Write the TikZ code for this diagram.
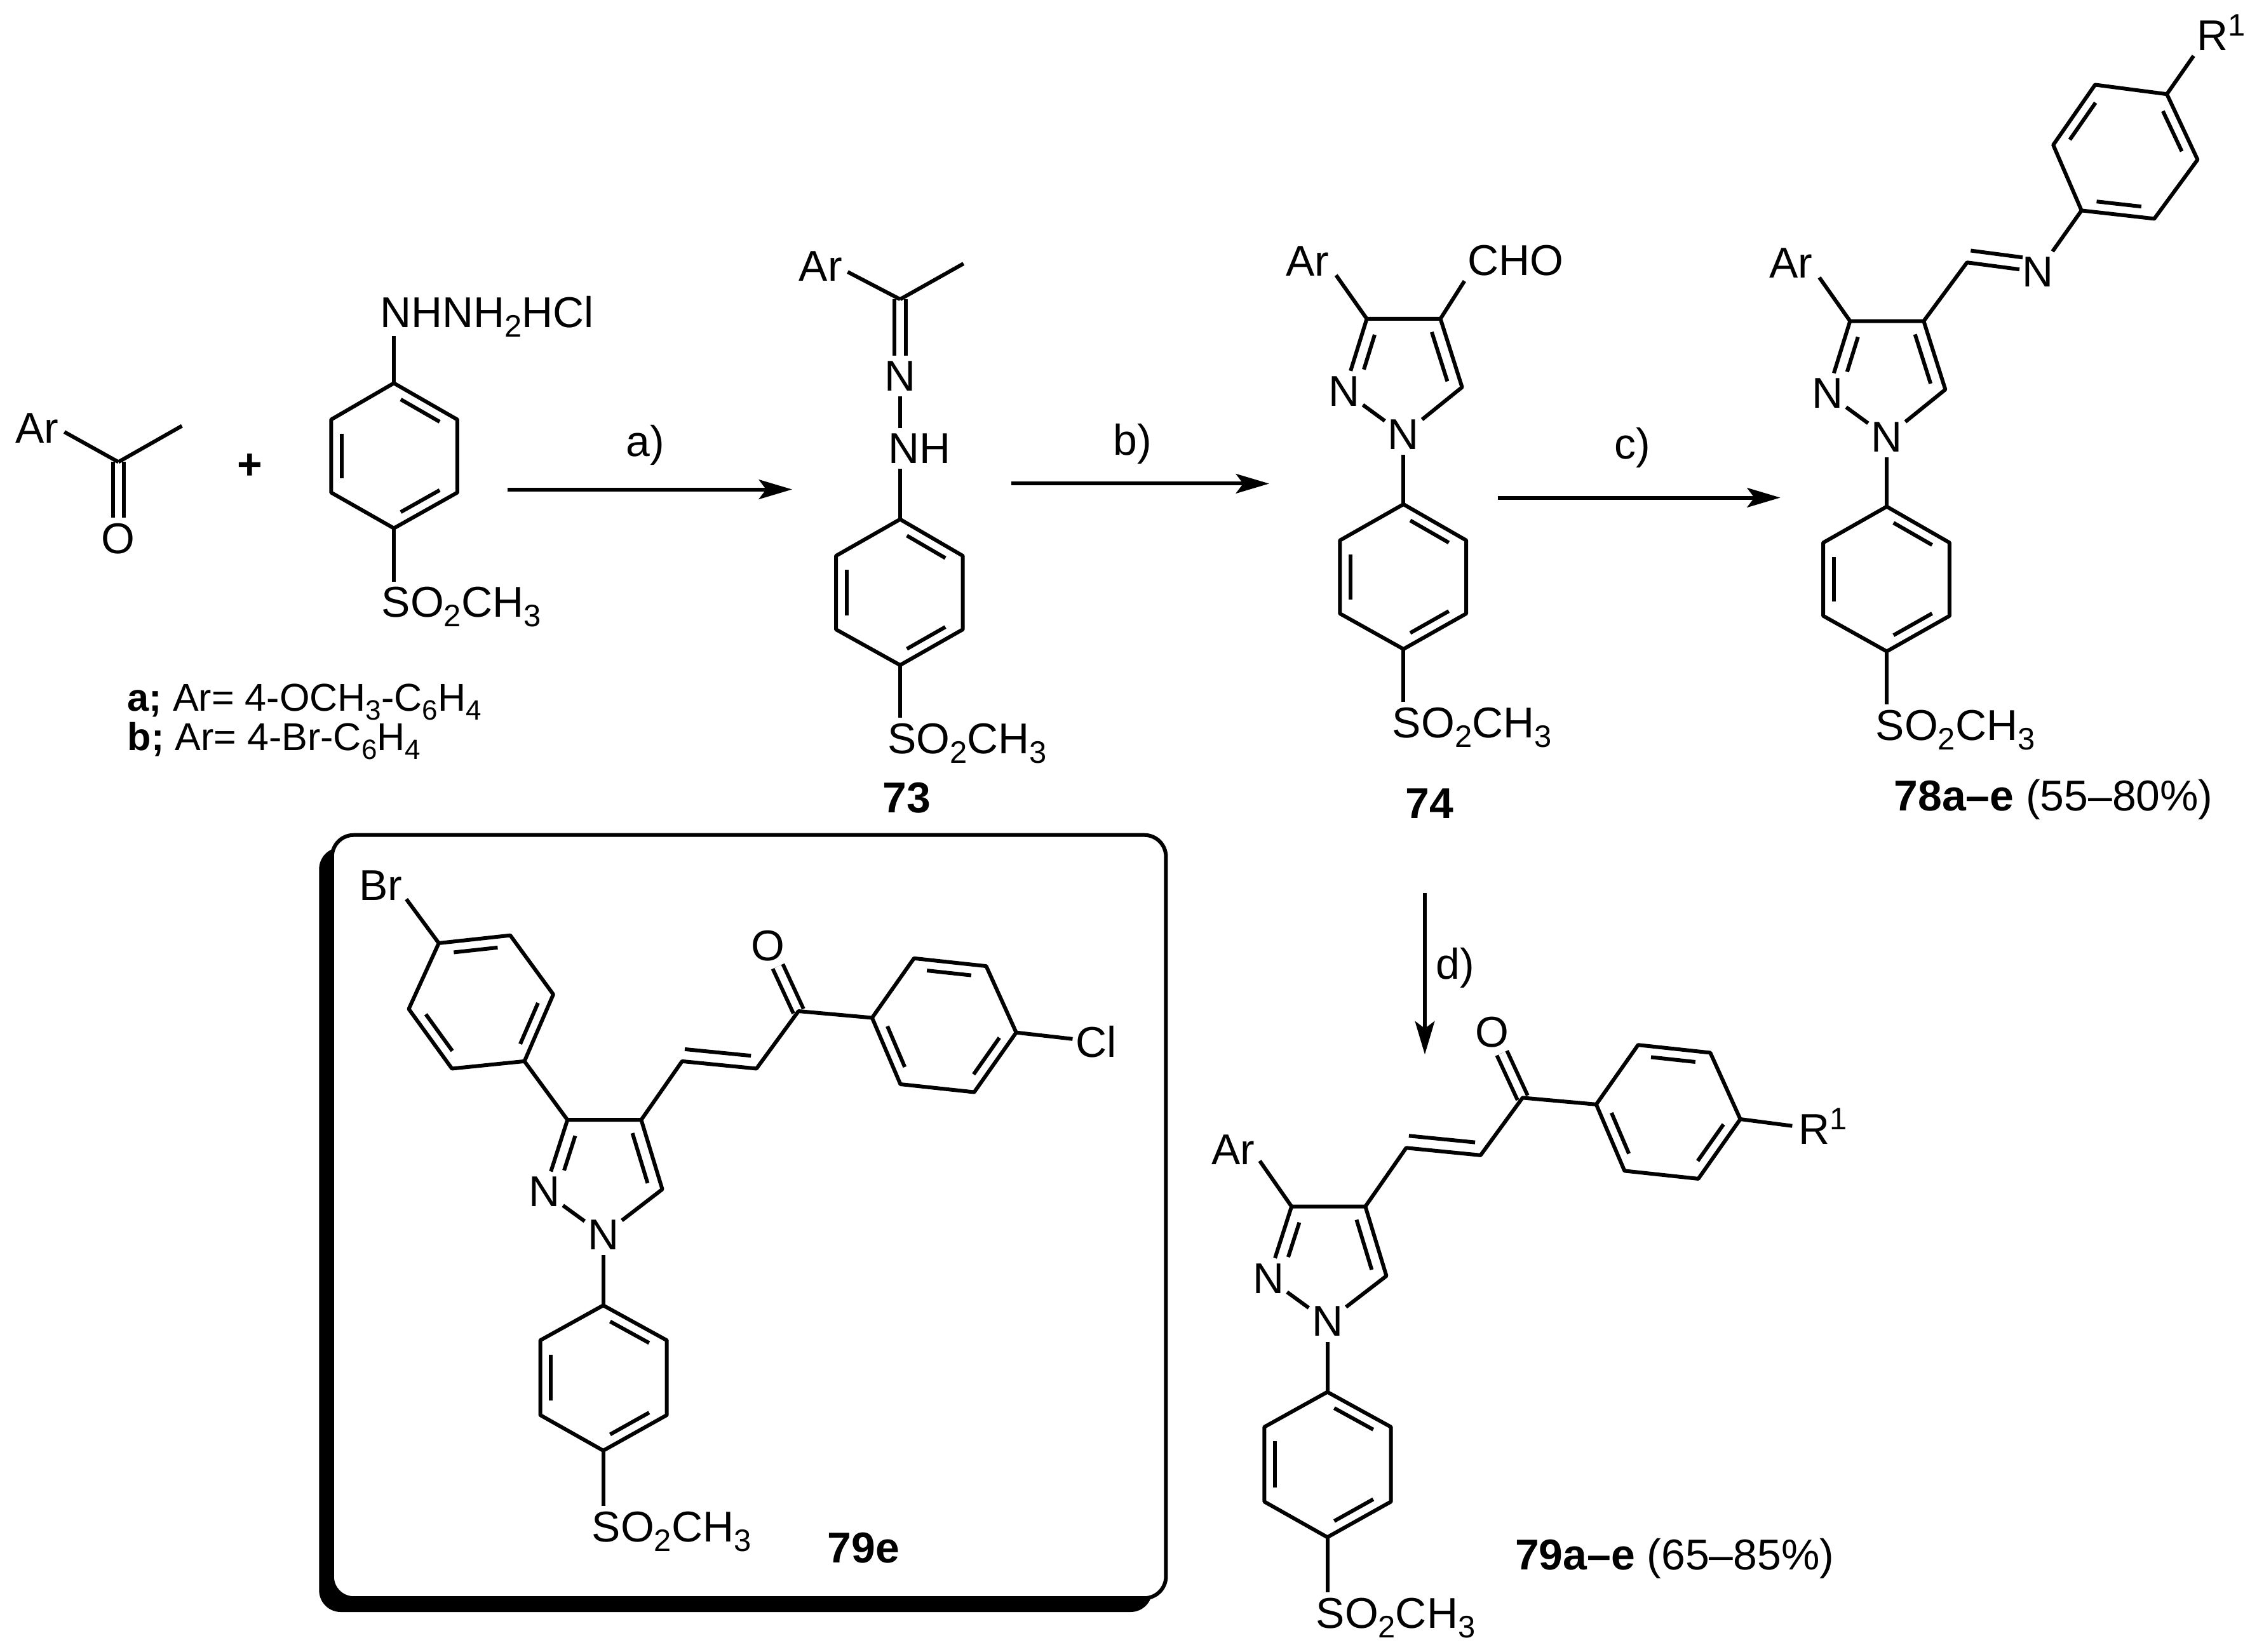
\documentclass[tikz,border=0pt]{standalone}
\usepackage{graphicx}
\usepackage{fontspec}
\setmainfont{Liberation Sans}
\usetikzlibrary{calc,arrows.meta}

\newcommand{\chemfont}{\fontsize{17}{20}\selectfont}
\newcommand{\notefont}{\fontsize{15.3}{18}\selectfont}
\newcommand{\low}[1]{\raisebox{-.22em}{\scalebox{.72}{#1}}}
\newcommand{\upp}[1]{\raisebox{.34em}{\scalebox{.72}{#1}}}
\newcommand{\sulfone}{SO\low{2}CH\low{3}}
\newcommand{\dgap}{.17cm}

% inner line of a double bond: from, to, start, end, side
\newcommand{\inbond}[5]{\draw[bond] ($(#1)!#3!(#2)!\dgap!#5:(#2)$) -- ($(#1)!#4!(#2)!\dgap!#5:(#2)$);}

\newcommand{\hexring}[7]{
	\coordinate (#1a) at #2;
	\coordinate (#1b) at #3;
	\coordinate (#1c) at #4;
	\coordinate (#1d) at #5;
	\coordinate (#1e) at #6;
	\coordinate (#1f) at #7;
	\coordinate (#1o) at ($(#1a)!.5!(#1d)$);
	\draw[bond] (#1a) -- (#1b) -- (#1c) -- (#1d) -- (#1e) -- (#1f) -- cycle;
	\foreach \p/\q in {a/b,c/d,e/f}
		\draw[bond] ($(#1\p)!.13!(#1\q)!.17!(#1o)$) -- ($(#1\q)!.13!(#1\p)!.17!(#1o)$);
}

\newcommand{\pyrazole}[6]{
	\coordinate (#1c3) at #2;
	\coordinate (#1c4) at #3;
	\coordinate (#1c5) at #4;
	\node[atom] (#1n1) at #5 {N};
	\node[atom] (#1n2) at #6 {N};
	\draw[bond] (#1n2) -- (#1c3) -- (#1c4) -- (#1c5) -- (#1n1) -- (#1n2);
	\inbond{#1c3}{#1n2}{.17}{.65}{90}
	\inbond{#1c4}{#1c5}{.14}{.86}{-90}
}

% pyrazole with the sulfonyl ring, the shape of 74 and 78
\newcommand{\coreald}[1]{
	\pyrazole{#1}{(946.6,220.8)}{(997.6,220.8)}{(1012.6,268.2)}{(972,301)}{(931,271)}
	\hexring{#1r}{(972,349.3)}{(1015.5,374.3)}{(1015.5,425)}{(972,449.6)}{(928,425)}{(928,374.3)}
	\node[chem] (#1ar) at (890.4,191) {Ar};
	\node[chem] (#1so) at (964,511) {\sulfone};
	\draw[bond] (#1n1) -- (#1ra);
	\draw[bond] (#1rd) -- (#1rd |- #1so.north);
	\draw[bond,shorten >=.09cm] (#1c3) -- (#1ar.-20);
}

% pyrazole with the enone arm, the shape of 79e and 79a-e
\newcommand{\coreenone}[1]{
	\pyrazole{#1}{(393,775.7)}{(444.1,775.7)}{(458.7,823.8)}{(417.8,855.3)}{(377,825.6)}
	\hexring{#1r}{(417.8,904.2)}{(461.8,928.4)}{(461.8,980.2)}{(417.8,1004.8)}{(374.2,980.2)}{(374.2,928.4)}
	\hexring{#1k}{(633,663.8)}{(683,669.2)}{(703.8,715.2)}{(674.7,756.5)}{(623.6,751)}{(604,705)}
	\coordinate (#1v1) at (472.4,735.1);
	\coordinate (#1v2) at (523.9,740.2);
	\coordinate (#1co) at (553,700.4);
	\node[atom] (#1o) at (532,655) {O};
	\node[chem] (#1so) at (409.6,1067.8) {\sulfone};
	\draw[dbond] (#1co) -- (#1o);
	\draw[bond] (#1c4) -- (#1v1) -- (#1v2) -- (#1co) -- (#1kf);
	\inbond{#1v1}{#1v2}{.02}{.91}{90}
	\draw[bond] (#1n1) -- (#1ra);
	\draw[bond] (#1rd) -- (#1rd |- #1so.north);
}

\begin{document}
\begin{tikzpicture}[x=.02cm,y=-.02cm,line join=round,
		every node/.style={font=\chemfont},
		bond/.style={line width=1.5pt},
		dbond/.style={line width=1.5pt,double,double distance=.1cm},
		rxn/.style={line width=1.5pt,-{Stealth[length=.46cm,width=.27cm,inset=.1cm]}},
		chem/.style={anchor=base west,inner xsep=1pt,inner ysep=2pt,xshift=-1pt},
		atom/.style={inner xsep=1pt,inner ysep=2pt},
		cond/.style={anchor=base},
		note/.style={anchor=base west,inner sep=0pt,font=\notefont},
		cmpd/.style={anchor=base},
		yield/.style={anchor=base west,inner sep=0pt}]
	\useasboundingbox (0,0) rectangle (1568,1144);

	% box behind 79e
	\fill[black,rounded corners=.3cm] (221,587) rectangle (798,1116.6);
	\draw[fill=white,line width=1.5pt,rounded corners=.3cm] (230,578.4) rectangle (807.5,1107);

	% ketone
	\coordinate (kc) at (82,320);
	\coordinate (kme) at (126,295);
	\node[chem] (kar) at (10.5,307) {Ar};
	\node[atom] (ko) at (82,373) {O};
	\draw[dbond] (kc) -- (ko);
	\draw[bond,shorten >=.04cm] (kc) -- (kar.-5);
	\draw[bond] (kc) -- (kme);
	\node (plus) at (173,323) {\textbf{+}};

	% hydrazine
	\hexring{h}{(272.8,265.4)}{(316.7,290.6)}{(316.7,341.2)}{(272.8,365.9)}{(229.4,341.2)}{(229.4,290.6)}
	\node[chem] (hnh) at (263,226.6) {NHNH\low{2}HCl};
	\node[chem] (hso) at (264,427.6) {\sulfone};
	\draw[bond,shorten >=-.09cm] (ha) -- (ha |- hnh.south);
	\draw[bond] (hd) -- (hd |- hso.north);
	\node[note] (noa) at (88,492.7) {\textbf{a;} Ar= 4-OCH\low{3}-C\low{6}H\low{4}};
	\node[note] (nob) at (88,520) {\textbf{b;} Ar= 4-Br-C\low{6}H\low{4}};

	% 73
	\coordinate (tc) at (623.4,207.3);
	\coordinate (tme) at (667.3,182.6);
	\node[chem] (tar) at (553,194.7) {Ar};
	\node[atom] (tn) at (623.4,260.6) {N};
	\node[chem] (tnh) at (615,321) {NH};
	\draw[dbond] (tc) -- (tn);
	\draw[bond,shorten >=.04cm] (tc) -- (tar.-10);
	\draw[bond] (tc) -- (tme);
	\hexring{t}{(623.4,359.7)}{(666.8,385)}{(666.8,436)}{(623.4,460.7)}{(579,436)}{(579,385)}
	\node[chem] (tso) at (614.4,522) {\sulfone};
	\draw[bond] (tn) -- (tn |- tnh.north);
	\draw[bond] (ta |- tnh.south) -- (ta);
	\draw[bond] (td) -- (td |- tso.north);
	\node[cmpd] (c73) at (628,563) {\textbf{73}};

	% 74
	\coreald{a}
	\node[chem] (acho) at (1016,190.5) {CHO};
	\draw[bond] (ac4) -- (acho.south west);
	\node[cmpd] (c74) at (990,567) {\textbf{74}};

	% 78
	\begin{scope}[shift={(334.7,1.6)}]
		\coreald{m}
	\end{scope}
	\coordinate (mch) at (1362.3,181.8);
	\node[atom] (mn) at (1411.5,188.3) {N};
	\draw[bond] (mc4) -- (mch) -- (mn);
	\inbond{mch}{mn}{.03}{.76}{90}
	\hexring{p}{(1441.6,145.8)}{(1492,151.5)}{(1522,110.6)}{(1500.7,65.2)}{(1451,58.7)}{(1422,100.4)}
	\node[chem] (pr) at (1521,34.8) {R\upp{1}};
	\draw[bond] (mn) -- (pa);
	\draw[bond] (pd) -- (pr.south west);
	\node[yield] (c78) at (1311.4,561.4) {\textbf{78a–e} (55–80\%)};

	% 79e
	\coreenone{e}
	\hexring{b}{(303.9,653.3)}{(353.4,647.9)}{(383.2,688.8)}{(363.2,735.1)}{(313,740.2)}{(283.1,698.9)}
	\node[chem] (ebr) at (248.5,623.6) {Br};
	\node[chem] (ecl) at (744.6,732.2) {Cl};
	\draw[bond] (ec3) -- (bd);
	\draw[bond,shorten >=.02cm] (ba) -- (ebr.-27);
	\draw[bond] (ekc) -- (ecl);
	\node[cmpd] (c79e) at (598,1082.6) {\textbf{79e}};

	% 79a-e
	\begin{scope}[shift={(501.5,60)}]
		\coreenone{f}
	\end{scope}
	\node[chem] (far) at (838.7,806.8) {Ar};
	\node[chem] (fr) at (1245.5,792.7) {R\upp{1}};
	\draw[bond,shorten >=.05cm] (fc3) -- (far.-18);
	\draw[bond,shorten >=.05cm] (fkc) -- (fr.west);
	\node[yield] (c79) at (1049,1087.3) {\textbf{79a–e} (65–85\%)};

	% reaction arrows
	\coordinate (a0) at (351.5,339);
	\coordinate (a1) at (548.6,339);
	\coordinate (b0) at (700.5,335);
	\coordinate (b1) at (879,335);
	\coordinate (c0) at (1037.5,344.7);
	\coordinate (c1) at (1233,344.7);
	\coordinate (d0) at (986.8,618.6);
	\coordinate (d1) at (986.8,730.4);
	\draw[rxn] (a0) -- (a1);
	\draw[rxn] (b0) -- (b1);
	\draw[rxn] (c0) -- (c1);
	\draw[rxn] (d0) -- (d1);
	\node[cond] (la) at (447,316) {a)};
	\node[cond] (lb) at (784.5,315) {b)};
	\node[cond] (lc) at (1130.7,318) {c)};
	\node[cond] (ld) at (1008,678) {d)};
\end{tikzpicture}
\end{document}
